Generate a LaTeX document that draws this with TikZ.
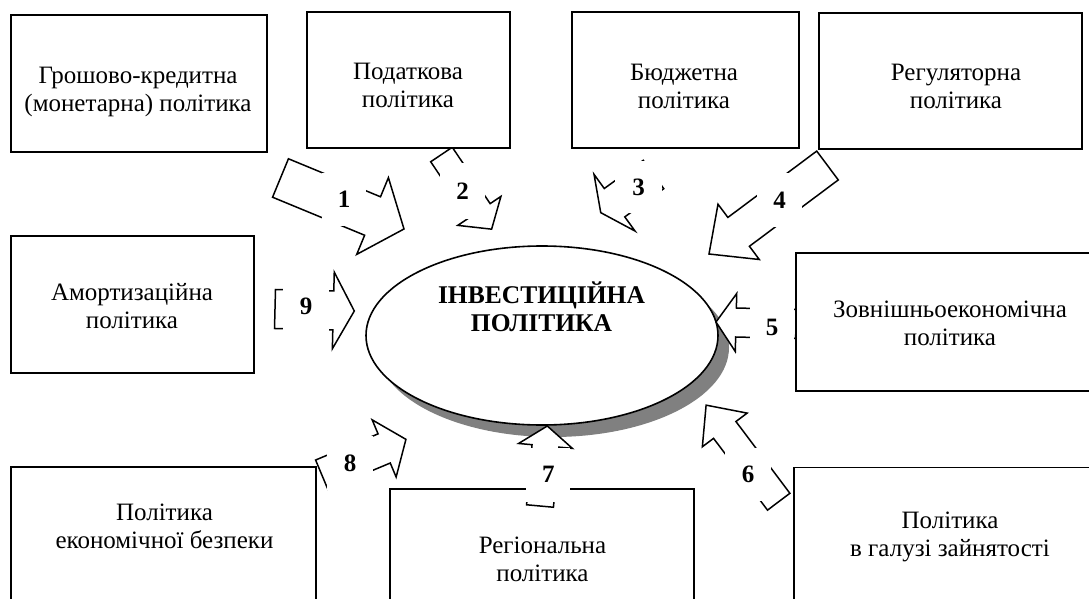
\documentclass[tikz,border=0pt]{standalone}
\usepackage{fontspec}
\setmainfont{Liberation Serif}
\usetikzlibrary{calc,shapes.geometric}
\newcommand\blockarrow[5]{%
  \path let \p1=(#1), \p2=(#2) in \pgfextra{%
    \pgfmathsetmacro\tmpang{atan2(\y2-\y1,\x2-\x1)}%
    \pgfmathsetmacro\tmplen{veclen(\x2-\x1,\y2-\y1)}%
    \xdef\baang{\tmpang}\xdef\balen{\tmplen}};
  \draw[arrowline,shift={(#1)},rotate=\baang]
    (0pt,-#3pt) -- ({\balen pt-#5pt},-#3pt) -- ({\balen pt-#5pt},-#4pt) -- (\balen pt,0pt)
    -- ({\balen pt-#5pt},#4pt) -- ({\balen pt-#5pt},#3pt) -- (0pt,#3pt) -- cycle;
}
\tikzset{
  polbox/.style={draw, line width=1.6pt, fill=white, inner sep=0pt},
  boxtext/.style={align=center, inner sep=0pt, font=\fontsize{25}{28}\selectfont},
  arrowline/.style={draw, fill=white, line width=1.5pt, line join=miter},
  numlabel/.style={fill=white, inner sep=0pt, minimum width=46pt, minimum height=54pt,
    font=\fontsize{25}{28}\selectfont\bfseries},
}
\begin{document}
\begin{tikzpicture}[x=1pt,y=-1pt]
\useasboundingbox (0,0) rectangle (1089,599);
\clip (0,0) rectangle (1089,599);
\fill[white] (0,0) rectangle (1089,599);

% central ellipse with shadow
\node[ellipse, fill=gray, minimum width=352pt, minimum height=179pt, inner sep=0pt] (shadow) at (553,347.5) {};
\node[ellipse, draw, fill=white, line width=1.6pt, minimum width=352pt, minimum height=179pt, inner sep=0pt] (inv) at (542,335.5) {};
\node[boxtext, font=\fontsize{25.5}{28}\selectfont\bfseries] (invt) at (541.5,307) {ІНВЕСТИЦІЙНА\\ПОЛІТИКА};

% block arrows (tail, tip)
\coordinate (a1s) at (280.5,178);  \coordinate (a1e) at (404,229);
\coordinate (a2s) at (441.5,154.5); \coordinate (a2e) at (491.7,229.3);
\coordinate (a3s) at (653.5,174.5); \coordinate (a3e) at (600.7,212.7);
\coordinate (a4s) at (827.5,165.5); \coordinate (a4e) at (709,254);
\coordinate (a5s) at (796,324);    \coordinate (a5e) at (716,322);
\coordinate (a6s) at (778.7,501.7); \coordinate (a6e) at (706,405);
\coordinate (a7s) at (540,506);    \coordinate (a7e) at (547.3,426);
\coordinate (a8s) at (321.7,474.6); \coordinate (a8e) at (406,439.3);
\coordinate (a9s) at (275,309);    \coordinate (a9e) at (354.3,311);

\blockarrow{a1s}{a1e}{20.8}{41.5}{34}
\blockarrow{a2s}{a2e}{13}{26}{22}
\blockarrow{a3s}{a3e}{17.5}{35}{17}
\blockarrow{a4s}{a4e}{18}{34.5}{37}
\blockarrow{a5s}{a5e}{14.5}{29}{20}
\blockarrow{a6s}{a6e}{14}{28}{31}
\blockarrow{a8s}{a8e}{15.8}{31}{23.6}
\blockarrow{a9s}{a9e}{19.5}{38.3}{21}

% policy boxes
\node[polbox, minimum width=256pt, minimum height=137pt] (b1) at (139,83.5) {};
\node[polbox, minimum width=203pt, minimum height=136pt] (b2) at (408.5,80) {};
\node[polbox, minimum width=227pt, minimum height=136pt] (b3) at (685.5,80) {};
\node[polbox, minimum width=263pt, minimum height=136pt] (b4) at (950.5,81) {};
\node[polbox, minimum width=308pt, minimum height=138pt] (b5) at (950,322) {};
\node[polbox, minimum width=312pt, minimum height=137pt] (b6) at (950,536) {};
\node[polbox, minimum width=304pt, minimum height=137pt] (b7) at (542,557.5) {};
\node[polbox, minimum width=305pt, minimum height=137pt] (b8) at (163.5,535.5) {};
\node[polbox, minimum width=243pt, minimum height=137pt] (b9) at (132.5,304.5) {};

\node[boxtext] (t1) at (138,92) {Грошово-кредитна\\(монетарна) політика};
\node[boxtext] (t2) at (408,85) {Податкова\\політика};
\node[boxtext] (t3) at (684,86) {Бюджетна\\політика};
\node[boxtext] (t4) at (956,86) {Регуляторна\\політика};
\node[boxtext] (t5) at (950,323.5) {Зовнішньоекономічна\\політика};
\node[boxtext] (t6) at (950,536.5) {Політика\\в галузі зайнятості};
\node[boxtext] (t7) at (542.5,559) {Регіональна\\політика};
\node[boxtext] (t8) at (164.5,526) {Політика\\економічної безпеки};
\node[boxtext] (t9) at (132,306) {Амортизаційна\\політика};

\blockarrow{a7s}{a7e}{13.5}{27}{20}

% number labels
\node[numlabel, minimum width=44pt, minimum height=53pt] (n1) at (344,199.5) {1};
\node[numlabel, minimum width=45pt, minimum height=56pt] (n2) at (462.5,191) {2};
\node[numlabel, minimum width=47pt, minimum height=52pt] (n3) at (638.5,187) {3};
\node[numlabel, minimum width=45pt, minimum height=54pt] (n4) at (779.5,200) {4};
\node[numlabel, minimum width=44pt, minimum height=54pt] (n5) at (772,327) {5};
\node[numlabel, minimum width=46pt, minimum height=53pt] (n6) at (748,474.5) {6};
\node[numlabel, minimum width=44pt, minimum height=54pt] (n7) at (548.3,474.5) {7};
\node[numlabel, minimum width=46pt, minimum height=54pt] (n8) at (350,463) {8};
\node[numlabel, minimum width=46pt, minimum height=54pt] (n9) at (306,306) {9};
\end{tikzpicture}
\end{document}
